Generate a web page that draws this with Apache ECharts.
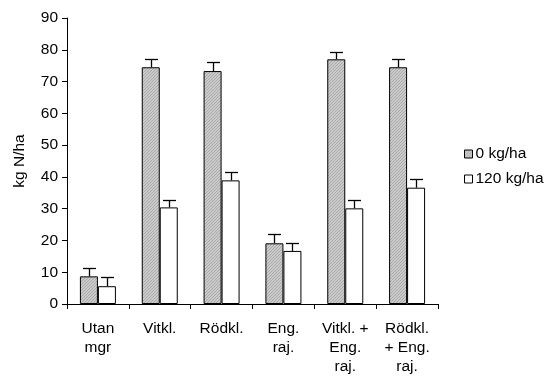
<!DOCTYPE html>
<html><head><meta charset="utf-8">
<script src="https://cdn.jsdelivr.net/npm/echarts@6/dist/echarts.min.js"></script>
<style>html,body{margin:0;padding:0;background:#fff}#c{width:550px;height:379px}</style>
</head><body><div id="c"></div>
<script>
const categories = ['Utan\nmgr', 'Vitkl.', 'Rödkl.', 'Eng.\nraj.', 'Vitkl. +\nEng.\nraj.', 'Rödkl.\n+ Eng.\nraj.'];
const seriesNames = ['0 kg/ha', '120 kg/ha'];
const values0 = [8.7, 74.5, 73.3, 19.1, 77.0, 74.5];
const errors0 = [2.6, 2.5, 2.8, 2.9, 2.4, 2.5];
const values120 = [5.6, 30.4, 38.9, 16.7, 30.1, 36.6];
const errors120 = [2.8, 2.4, 2.6, 2.4, 2.5, 2.6];
const yTicks = [0, 10, 20, 30, 40, 50, 60, 70, 80, 90];

const pc = document.createElement('canvas');
pc.width = 3; pc.height = 3;
const g = pc.getContext('2d');
g.fillStyle = '#cbcbcb'; g.fillRect(0, 0, 3, 3);
g.fillStyle = '#a9a9a9';
for (let i = 0; i < 3; i++) { g.fillRect(i, 2 - i, 1, 1); }
const hatch = { image: pc, repeat: 'repeat' };

const FONT = 'Liberation Sans, Arial, sans-serif';
const FS = 15.5;
const BW = 18;

function errSeries(vals, errs, offset) {
  return {
    type: 'custom',
    silent: true,
    z: 1,
    data: vals.map((v, i) => [i, v, v + errs[i]]),
    renderItem: function (params, api) {
      const i = api.value(0);
      const p0 = api.coord([i, api.value(1)]);
      const p1 = api.coord([i, api.value(2)]);
      const x = Math.round(p0[0] + offset) + 0.5;
      const hw = 6.5;
      const y1 = Math.round(p1[1]) + 0.5;
      return {
        type: 'group',
        children: [
          { type: 'line', shape: { x1: x, y1: p0[1], x2: x, y2: y1 }, style: { stroke: '#000', lineWidth: 1.3 } },
          { type: 'line', shape: { x1: x - hw, y1: y1, x2: x + hw, y2: y1 }, style: { stroke: '#000', lineWidth: 1.3 } }
        ]
      };
    }
  };
}

const chart = echarts.init(document.getElementById('c'), null, { renderer: 'canvas' });
chart.setOption({
  animation: false,
  textStyle: { fontFamily: FONT, color: '#000' },
  grid: { left: 67, right: 112, top: 18, bottom: 75, containLabel: false, outerBoundsMode: 'none' },
  legend: {
    orient: 'vertical', left: 459, top: 141,
    itemWidth: 8, itemHeight: 8, itemGap: 9,
    textStyle: { fontFamily: FONT, fontSize: FS, color: '#000', padding: [0, 0, 0, -2] },
    data: [
      { name: seriesNames[0], icon: 'rect', itemStyle: { color: hatch, borderColor: '#000', borderWidth: 1 } },
      { name: seriesNames[1], icon: 'rect', itemStyle: { color: '#fff', borderColor: '#000', borderWidth: 1 } }
    ]
  },
  xAxis: {
    type: 'category', data: categories,
    axisLine: { lineStyle: { color: '#000', width: 1 } },
    axisTick: { show: true, length: 5, lineStyle: { color: '#000' } },
    axisLabel: { color: '#000', fontSize: FS, fontFamily: FONT, margin: 15, lineHeight: 19, interval: 0 }
  },
  yAxis: {
    type: 'value', min: 0, max: 90, interval: 10,
    name: 'kg N/ha', nameLocation: 'middle', nameGap: 39, nameRotate: 90,
    nameTextStyle: { color: '#000', fontSize: FS, fontFamily: FONT },
    splitLine: { show: false },
    axisLine: { show: true, lineStyle: { color: '#000', width: 1 } },
    axisTick: { show: true, length: 5, lineStyle: { color: '#000' } },
    axisLabel: { color: '#000', fontSize: FS, fontFamily: FONT, margin: 9,
      formatter: v => yTicks.includes(v) ? String(v) : '' }
  },
  series: [
    { name: seriesNames[0], type: 'bar', data: values0, barWidth: BW, barGap: '0%', z: 2,
      itemStyle: { color: hatch, borderColor: '#000', borderWidth: 1 } },
    { name: seriesNames[1], type: 'bar', data: values120, barWidth: BW, barGap: '0%', z: 2,
      itemStyle: { color: '#fff', borderColor: '#000', borderWidth: 1 } },
    errSeries(values0, errors0, -BW / 2),
    errSeries(values120, errors120, BW / 2)
  ]
});
</script></body></html>
